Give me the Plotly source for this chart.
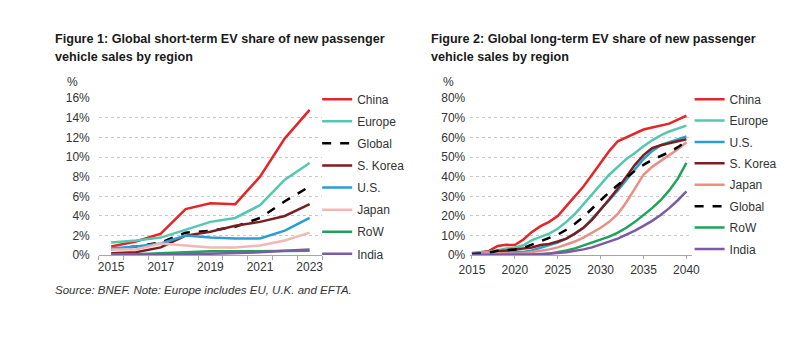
import plotly.graph_objects as go

# Short-term view, 2015-2023 (EV share of new passenger vehicle sales, %)
years_short = list(range(2015, 2024))
short_china = [0.9, 1.4, 2.2, 4.7, 5.3, 5.2, 8.0, 11.9, 14.8]
short_europe = [1.3, 1.5, 1.8, 2.6, 3.4, 3.8, 5.1, 7.7, 9.4]
short_global = [0.6, 0.9, 1.3, 2.3, 2.5, 2.9, 3.8, 5.5, 7.0]
short_skorea = [0.2, 0.3, 0.8, 2.0, 2.4, 3.0, 3.4, 4.0, 5.2]
short_us = [0.7, 0.9, 1.2, 2.0, 1.8, 1.7, 1.7, 2.5, 3.8]
short_japan = [0.6, 0.6, 1.2, 1.0, 0.8, 0.8, 1.0, 1.5, 2.3]
short_row = [0.1, 0.1, 0.2, 0.3, 0.4, 0.4, 0.4, 0.4, 0.45]
short_india = [0.05, 0.05, 0.1, 0.1, 0.15, 0.2, 0.3, 0.45, 0.6]

# Long-term view, 2015-2040 (%)
years_long = list(range(2015, 2041))
long_china = [0.9, 1.4, 2.2, 4.7, 5.3, 5.2, 8.0, 11.9, 14.8, 17, 20, 25, 30, 35,
              41, 47, 53, 58, 60, 62, 64, 65, 66, 67, 69, 71]
long_europe = [1.3, 1.5, 1.8, 2.6, 3.4, 3.8, 5.1, 7.7, 9.4, 11, 13.5, 17, 21, 26,
               31, 36, 41, 45, 49, 52, 55.5, 58.5, 61, 63, 64.5, 66]
long_us = [0.7, 0.9, 1.2, 2.0, 1.8, 1.7, 1.7, 2.5, 3.8, 5, 6.5, 8.5, 11, 14,
           18.5, 23, 28, 33, 38.5, 44, 49, 53, 56, 57.5, 59, 60.5]
long_skorea = [0.2, 0.3, 0.8, 2.0, 2.4, 3.0, 3.4, 4.0, 5.2, 5.8, 7, 8.5, 11, 14,
               18, 23, 28.5, 34, 40, 46, 51, 54.5, 56, 57, 58, 59]
long_japan = [0.6, 0.6, 1.2, 1.0, 0.8, 0.8, 1.0, 1.5, 2.3, 3, 4, 5.5, 7, 9,
              11.5, 14, 17, 21, 27, 34, 41, 45, 48, 51, 54, 57.5]
long_global = [0.6, 0.9, 1.3, 2.3, 2.5, 2.9, 3.8, 5.5, 7.0, 8.5, 10.5, 13, 16, 19.5,
               24, 28, 32, 36, 39.5, 43, 46, 48.5, 50.5, 52.5, 55, 58]
long_row = [0.1, 0.1, 0.2, 0.3, 0.4, 0.4, 0.4, 0.4, 0.45, 0.8, 1.5, 2.5, 3.5, 5,
            6.5, 8, 9.5, 11.5, 14, 17, 20.5, 24, 28, 33, 39, 47]
long_india = [0.05, 0.05, 0.1, 0.1, 0.15, 0.2, 0.3, 0.45, 0.6, 0.8, 1.1, 1.5, 2.2, 3,
              4, 5.5, 7, 8.5, 10.5, 12.5, 15, 17.5, 20.5, 24, 28, 32.5]

short_ticks = [2015, 2017, 2019, 2021, 2023]
long_ticks = [2015, 2020, 2025, 2030, 2035, 2040]
short_yticks = list(range(0, 17, 2))
long_yticks = list(range(0, 81, 10))

COL = {
    "China": "#e52528",
    "Europe": "#55c7af",
    "Global": "#000000",
    "S. Korea": "#7a1f1f",
    "U.S.": "#2a9ed3",
    "Japan_short": "#f4b7b5",
    "Japan_long": "#ea8f86",
    "RoW": "#1ea35a",
    "India": "#7b5ba8",
}

FONT = "Liberation Sans, Arial, sans-serif"
TXT = "#333333"

fig = go.Figure()

short_series = [
    ("China", short_china, COL["China"], "solid"),
    ("Europe", short_europe, COL["Europe"], "solid"),
    ("Global", short_global, COL["Global"], "dash"),
    ("S. Korea", short_skorea, COL["S. Korea"], "solid"),
    ("U.S.", short_us, COL["U.S."], "solid"),
    ("Japan", short_japan, COL["Japan_short"], "solid"),
    ("RoW", short_row, COL["RoW"], "solid"),
    ("India", short_india, COL["India"], "solid"),
]
long_series = [
    ("China", long_china, COL["China"], "solid"),
    ("Europe", long_europe, COL["Europe"], "solid"),
    ("U.S.", long_us, COL["U.S."], "solid"),
    ("S. Korea", long_skorea, COL["S. Korea"], "solid"),
    ("Japan", long_japan, COL["Japan_long"], "solid"),
    ("Global", long_global, COL["Global"], "dash"),
    ("RoW", long_row, COL["RoW"], "solid"),
    ("India", long_india, COL["India"], "solid"),
]

for i, (name, vals, color, dash) in enumerate(short_series):
    fig.add_trace(go.Scatter(
        x=years_short, y=vals, name=name, mode="lines",
        line=dict(color=color, width=2.5, dash=dash),
        xaxis="x", yaxis="y", legend="legend", legendgroup="s%d" % i,
        legendrank=i + 1,
    ))
for i, (name, vals, color, dash) in enumerate(long_series):
    fig.add_trace(go.Scatter(
        x=years_long, y=vals, name=name, mode="lines",
        line=dict(color=color, width=2.5, dash=dash),
        xaxis="x2", yaxis="y2", legend="legend2", legendgroup="l%d" % i,
        legendrank=i + 1,
    ))

W, H = 799, 338


def px(x):
    return x / W


def py(y):
    return 1 - y / H


ydom = [py(259), py(95)]

axis_common = dict(
    tickfont=dict(family=FONT, size=12, color=TXT),
    showline=False, zeroline=False,
)

fig.update_layout(
    width=W, height=H,
    margin=dict(l=0, r=0, t=0, b=0),
    paper_bgcolor="white", plot_bgcolor="white",
    font=dict(family=FONT, size=12, color=TXT),
    xaxis=dict(
        domain=[px(89), px(318)], range=[2014.5, 2023.5],
        tickvals=short_ticks, ticktext=[str(t) for t in short_ticks],
        ticks="", showgrid=False, showline=True, linecolor="#a6a6a6", linewidth=1,
        zeroline=False, anchor="y",
        minor=dict(tick0=2014.5, dtick=1, ticks="outside", ticklen=4,
                   tickcolor="#a6a6a6", showgrid=False),
        tickfont=dict(family=FONT, size=12, color=TXT),
    ),
    yaxis=dict(
        domain=ydom, range=[0, 16], tickvals=short_yticks,
        ticktext=["%d%%" % v for v in short_yticks],
        showgrid=True, gridcolor="#c8c8c8", griddash="dot", gridwidth=1,
        ticks="", ticklabelstandoff=8, anchor="x", **axis_common,
    ),
    xaxis2=dict(
        domain=[px(470), px(697)], range=[2014.8, 2040.6],
        tickvals=long_ticks, ticktext=[str(t) for t in long_ticks],
        ticks="outside", ticklen=3, tickcolor="#a6a6a6",
        showgrid=False, showline=True, linecolor="#a6a6a6", linewidth=1,
        zeroline=False, anchor="y2",
        tickfont=dict(family=FONT, size=12, color=TXT),
    ),
    yaxis2=dict(
        domain=ydom, range=[0, 80], tickvals=long_yticks,
        ticktext=["%d%%" % v for v in long_yticks],
        showgrid=True, gridcolor="#c8c8c8", griddash="dot", gridwidth=1,
        ticks="", ticklabelstandoff=4, anchor="x2", **axis_common,
    ),
    legend=dict(
        x=px(313), y=py(81), xanchor="left", yanchor="top",
        font=dict(family=FONT, size=12, color=TXT),
        bgcolor="rgba(0,0,0,0)", tracegroupgap=3.1, traceorder="grouped",
    ),
    legend2=dict(
        x=px(695), y=py(81), xanchor="left", yanchor="top",
        font=dict(family=FONT, size=12, color=TXT),
        bgcolor="rgba(0,0,0,0)", tracegroupgap=2.4, traceorder="grouped",
    ),
    showlegend=True,
)

title_font = dict(family=FONT, size=12.6, color="#1a1a1a")
notes = [
    (42, 33, "<b>Figure 1: Global short-term EV share of new passenger</b>", title_font),
    (42, 52, "<b>vehicle sales by region</b>", title_font),
    (428, 33, "<b>Figure 2: Global long-term EV share of new passenger</b>", title_font),
    (428, 52, "<b>vehicle sales by region</b>", title_font),
    (54, 78, "%", dict(family=FONT, size=12, color=TXT)),
    (440, 78, "%", dict(family=FONT, size=12, color=TXT)),
    (42, 295, "<i>Source: BNEF. Note: Europe includes EU, U.K. and EFTA.</i>",
     dict(family=FONT, size=11.5, color=TXT)),
]
for x, y, text, f in notes:
    fig.add_annotation(
        x=px(x), y=py(y), xref="paper", yref="paper", text=text,
        showarrow=False, xanchor="left", yanchor="middle", font=f,
    )

# Remove the default page margin so the figure sits flush in the window
fig.write_html(
    "out.html",
    post_script="document.body.style.margin='0';document.body.style.overflow='hidden';",
)
